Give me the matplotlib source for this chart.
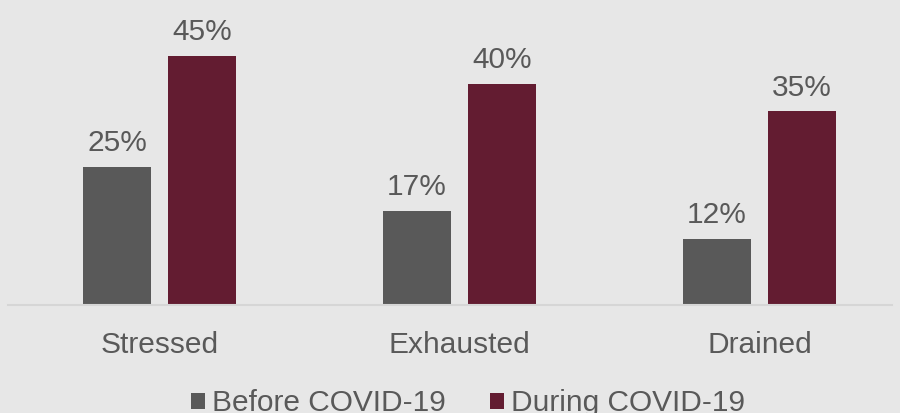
import numpy as np
import matplotlib
matplotlib.use("Agg")
import matplotlib.pyplot as plt

# data
categories = ["Stressed", "Exhausted", "Drained"]
before = [25, 17, 12]
during = [45, 40, 35]
series_names = ["Before COVID-19", "During COVID-19"]

bg = "#E7E7E7"
txt = "#595959"
col_before = "#595959"
col_during = "#631C31"

plt.rcParams["font.family"] = ["Liberation Sans", "DejaVu Sans"]

W, H = 900, 413
fig = plt.figure(figsize=(W / 100, H / 100), dpi=100, facecolor=bg)
# baseline sits at y=305 px, axes spans full width
ax = fig.add_axes([0, (H - 305) / H, 1, 305 / H])
ax.set_facecolor(bg)

x = np.arange(len(categories))
w = 0.227
off = 0.1417
b1 = ax.bar(x - off, before, w, color=col_before, label=series_names[0])
b2 = ax.bar(x + off, during, w, color=col_during, label=series_names[1])

for bars, vals in ((b1, before), (b2, during)):
    for r, v in zip(bars, vals):
        ax.annotate(f"{v}%", (r.get_x() + r.get_width() / 2, v),
                    xytext=(0, 7), textcoords="offset points",
                    ha="center", va="bottom", fontsize=21.5, color=txt)

ax.set_xlim(-159.5 / 300, (W - 159.5) / 300)
ax.set_ylim(0, 305 / 5.53)
ax.axhline(0, xmin=8 / W, xmax=892 / W, color="#D6D6D6", lw=1.5, clip_on=False)

for s in ax.spines.values():
    s.set_visible(False)
ax.set_yticks([])
ax.set_xticks(x)
ax.set_xticklabels(categories, fontsize=21.5, color=txt)
ax.tick_params(axis="x", length=0, pad=18.5)

# legend sits at the bottom edge, partly clipped as in the original
leg = fig.legend(loc="lower center", bbox_to_anchor=(468 / W, -0.047),
                 ncol=2, frameon=False, fontsize=21.5, borderpad=0,
                 handlelength=0.48, handleheight=0.48, handletextpad=0.24,
                 columnspacing=1.48, labelcolor=txt)

fig.savefig("out.png", dpi=100, facecolor=bg)
